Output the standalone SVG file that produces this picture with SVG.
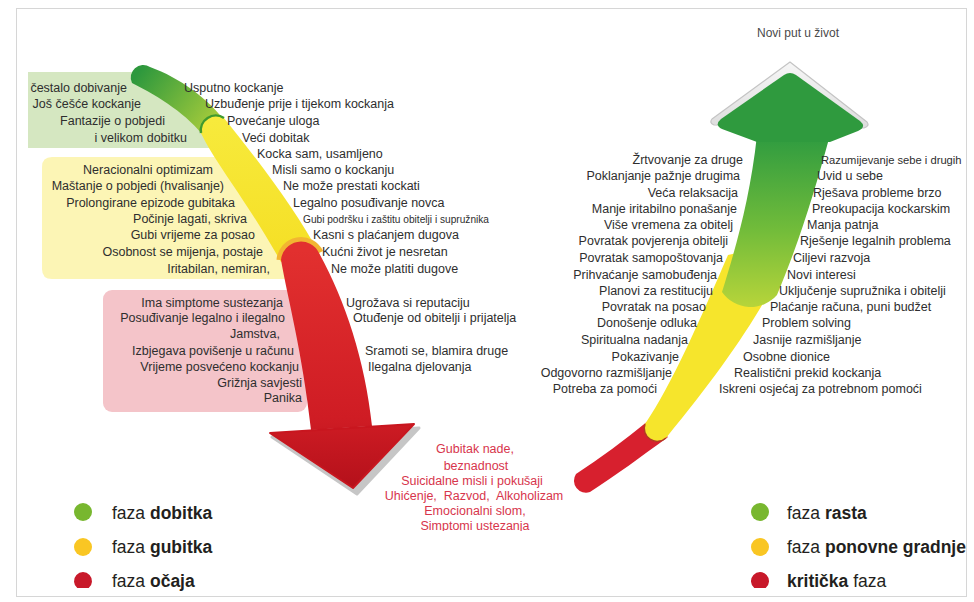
<svg xmlns="http://www.w3.org/2000/svg" width="974" height="602" viewBox="0 0 974 602">
<defs>
<style>
.t{font-family:"Liberation Sans",Arial,sans-serif;font-size:12.5px;fill:#2e2e2e}
.e{text-anchor:end}
.c{text-anchor:middle;fill:#d7354c}
.lg{font-family:"Liberation Sans",Arial,sans-serif;font-size:17.5px;fill:#231f20}
.b{font-weight:bold}
</style>
<linearGradient id="gL" gradientUnits="userSpaceOnUse" x1="140" y1="70" x2="222" y2="132">
<stop offset="0" stop-color="#2d983d"/><stop offset="1" stop-color="#b5d23b"/>
</linearGradient>
<linearGradient id="gR" gradientUnits="userSpaceOnUse" x1="0" y1="308" x2="0" y2="135">
<stop offset="0" stop-color="#b8d53a"/><stop offset="0.45" stop-color="#72bc3a"/><stop offset="1" stop-color="#2e9b40"/>
</linearGradient>
<linearGradient id="yL" gradientUnits="userSpaceOnUse" x1="0" y1="120" x2="0" y2="260">
<stop offset="0" stop-color="#f7ea3c"/><stop offset="1" stop-color="#f5df25"/>
</linearGradient>
<linearGradient id="rL" gradientUnits="userSpaceOnUse" x1="0" y1="250" x2="0" y2="490">
<stop offset="0" stop-color="#e2302f"/><stop offset="0.7" stop-color="#cf1c24"/><stop offset="1" stop-color="#b3101a"/>
</linearGradient>
<linearGradient id="bev" gradientUnits="userSpaceOnUse" x1="0" y1="60" x2="0" y2="126">
<stop offset="0" stop-color="#f7f7f7"/><stop offset="1" stop-color="#dedede"/>
</linearGradient>
<clipPath id="clipC"><rect x="380" y="430" width="200" height="101"/></clipPath>
</defs>
<rect x="16.5" y="8.5" width="950" height="588" fill="#ffffff" stroke="#d6d6d6"/>

<g id="box-dobitka">
<path d="M28,72 L150,72 L228,148 L28,148 Z" fill="#d5e7c1"/>
</g>
<g id="box-gubitka">
<path d="M52,157 L235,157 L305,279 L52,279 Q42,279 42,269 L42,167 Q42,157 52,157 Z" fill="#fcf5b5"/>
</g>
<g id="box-ocaja">
<rect x="103" y="290" width="204" height="122" rx="9" fill="#f4c4c9"/>
</g>

<g id="connectors">
<g id="arrow-down">
<path d="M132,83 A12.5,12.5 0 0 1 150,67 C180,78 208,98 228,125 L205,138 C188,115 160,97 132,83 Z" fill="url(#gL)"/>
<path d="M201,133 C215,163 245,198 281,262 L320,255 C297,212 262,165 224,118 A15,15 0 0 0 201,133 Z" fill="url(#yL)"/>
<path d="M224,118 A15,15 0 0 0 201,133" fill="none" stroke="#3f9a2f" stroke-width="2.5"/>
<path d="M319,253 A20,20 0 0 0 281,260" fill="none" stroke="#f2b531" stroke-width="9"/>
<path d="M272,437 L419,428 L357,494 Z" fill="#c6c6c6" stroke="#c6c6c6" stroke-width="3" stroke-linejoin="round"/>
<path d="M281,260 C288,300 302,350 311,430 L372,426 C365,360 345,300 319,253 A20,20 0 0 0 281,260 Z" fill="url(#rL)"/>
<path d="M270,433 L414,424 L353,488 Z" fill="url(#rL)" stroke="#c8161f" stroke-width="2" stroke-linejoin="round"/>
</g>
<g id="arrow-up">
<path d="M648,421 C625,440 600,458 576,474 A12,12 0 0 0 590,492 C615,476 642,456 668,437 Z" fill="#d7202e"/>
<path d="M645,424 C672,385 702,315 728,255 L795,240 C770,300 730,360 666,438 A13,13 0 0 1 645,424 Z" fill="#f6e52c"/>
<path d="M666,438 A13,13 0 0 1 645,424" fill="none" stroke="#b23a24" stroke-width="1.5"/>
<path d="M722,292 C735,250 750,200 757,135 L830,135 C815,190 800,240 777,295 A35,35 0 0 1 722,292 Z" fill="url(#gR)"/>
<path d="M790,62 L712,119 Q709,123 714,125 L864,128 Q870,126 867,122 Z" fill="url(#bev)" stroke="#c4c4c4" stroke-width="1.2" stroke-linejoin="round"/>
<path d="M757,142 L722,129 Q714,125 721,119 L784,75 Q790,71 796,75 L860,121 Q867,127 858,131 L830,142 Z" fill="#2f9a3e"/>
</g>
</g>

<g id="labels-dobitka" class="t e">
<text x="127" y="91.5">čestalo dobivanje</text>
<text x="141" y="107.5">Još češće kockanje</text>
<text x="165" y="124.5">Fantazije o pobjedi</text>
<text x="187" y="141.5">i velikom dobitku</text>
</g>
<g id="labels-right-down" class="t">
<text x="184" y="91.5">Usputno kockanje</text>
<text x="205" y="107.5">Uzbuđenje prije i tijekom kockanja</text>
<text x="227" y="124.5">Povećanje uloga</text>
<text x="242" y="141.5">Veći dobitak</text>
<text x="257" y="157.5">Kocka sam, usamljeno</text>
<text x="272" y="173.5">Misli samo o kockanju</text>
<text x="283" y="189.5">Ne može prestati kockati</text>
<text x="293" y="206.5">Legalno posuđivanje novca</text>
<text x="303" y="222.5" style="font-size:10.5px" textLength="186" lengthAdjust="spacingAndGlyphs">Gubi podršku i zaštitu obitelji i supružnika</text>
<text x="313" y="238.5">Kasni s plaćanjem dugova</text>
<text x="322" y="255.5">Kućni život je nesretan</text>
<text x="331" y="272.5">Ne može platiti dugove</text>
<text x="346" y="306.5">Ugrožava si reputaciju</text>
<text x="353" y="321.5">Otuđenje od obitelji i prijatelja</text>
<text x="365" y="354.5">Sramoti se, blamira druge</text>
<text x="368" y="370.5">Ilegalna djelovanja</text>
</g>
<g id="labels-gubitka" class="t e">
<text x="213" y="173.5">Neracionalni optimizam</text>
<text x="224" y="189.5">Maštanje o pobjedi (hvalisanje)</text>
<text x="235" y="206.5">Prolongirane epizode gubitaka</text>
<text x="247" y="222.5">Počinje lagati, skriva</text>
<text x="255" y="238.5">Gubi vrijeme za posao</text>
<text x="263" y="255.5">Osobnost se mijenja, postaje</text>
<text x="270" y="272.5">Iritabilan, nemiran,</text>
</g>
<g id="labels-ocaja" class="t e">
<text x="283" y="306.5">Ima simptome sustezanja</text>
<text x="285" y="321.5">Posuđivanje legalno i ilegalno</text>
<text x="280" y="337.5">Jamstva,</text>
<text x="294" y="354.5">Izbjegava povišenje u računu</text>
<text x="299" y="370.5">Vrijeme posvećeno kockanju</text>
<text x="302" y="386.5">Grižnja savjesti</text>
<text x="302" y="401.5">Panika</text>
</g>
<g id="labels-kriza" class="t c" clip-path="url(#clipC)">
<text x="475" y="452.5">Gubitak nade,</text>
<text x="476" y="469.5">beznadnost</text>
<text x="472" y="484.5">Suicidalne misli i pokušaji</text>
<text x="474" y="499.5">Uhićenje,&#160; Razvod,&#160; Alkoholizam</text>
<text x="475" y="514.5">Emocionalni slom,</text>
<text x="475" y="529.5">Simptomi ustezanja</text>
</g>
<g id="labels-up-left" class="t e">
<text x="743" y="163.5">Žrtvovanje za druge</text>
<text x="740" y="179.5">Poklanjanje pažnje drugima</text>
<text x="738" y="196.5">Veća relaksacija</text>
<text x="737" y="212.5">Manje iritabilno ponašanje</text>
<text x="733" y="228.5">Više vremena za obitelj</text>
<text x="728" y="244.5">Povratak povjerenja obitelji</text>
<text x="723" y="261.5">Povratak samopoštovanja</text>
<text x="717" y="278.5">Prihvaćanje samobuđenja</text>
<text x="713" y="295">Planovi za restituciju</text>
<text x="706" y="311">Povratak na posao</text>
<text x="697" y="327">Donošenje odluka</text>
<text x="688" y="343.5">Spiritualna nadanja</text>
<text x="679" y="360.5">Pokazivanje</text>
<text x="672" y="376.5">Odgovorno razmišljanje</text>
<text x="657" y="392.5">Potreba za pomoći</text>
</g>
<g id="labels-up-right" class="t">
<text x="821" y="163.5" style="font-size:11.2px">Razumijevanje sebe i drugih</text>
<text x="817" y="179.5">Uvid u sebe</text>
<text x="813" y="196.5">Rješava probleme brzo</text>
<text x="812" y="212.5">Preokupacija kockarskim</text>
<text x="807" y="228.5">Manja patnja</text>
<text x="800" y="244.5">Rješenje legalnih problema</text>
<text x="793" y="261.5">Ciljevi razvoja</text>
<text x="787" y="278.5">Novi interesi</text>
<text x="779" y="295">Uključenje supružnika i obitelji</text>
<text x="770" y="311">Plaćanje računa, puni budžet</text>
<text x="762" y="327">Problem solving</text>
<text x="753" y="343.5">Jasnije razmišljanje</text>
<text x="743" y="360.5">Osobne dionice</text>
<text x="734" y="376.5">Realistični prekid kockanja</text>
<text x="719" y="392.5">Iskreni osjećaj za potrebnom pomoći</text>
</g>
<g id="title-novi-put">
<text class="t" x="798" y="37" text-anchor="middle" style="font-size:12px;fill:#4a4a4a">Novi put u život</text>
</g>

<g id="legend-left">
<circle cx="83" cy="512" r="9" fill="#78b72f"/>
<circle cx="83" cy="547" r="9" fill="#f9c623"/>
<path d="M77.3,588 A9,9 0 1 1 88.7,588 Z" fill="#c8192a"/>
<text class="lg" x="112" y="519">faza <tspan class="b">dobitka</tspan></text>
<text class="lg" x="112" y="553">faza <tspan class="b">gubitka</tspan></text>
<text class="lg" x="112" y="587">faza <tspan class="b">očaja</tspan></text>
</g>
<g id="legend-right">
<circle cx="760" cy="512" r="9" fill="#78b72f"/>
<circle cx="760" cy="547" r="9" fill="#f9c623"/>
<path d="M754.3,588 A9,9 0 1 1 765.7,588 Z" fill="#c8192a"/>
<text class="lg" x="787" y="519">faza <tspan class="b">rasta</tspan></text>
<text class="lg" x="787" y="553">faza <tspan class="b">ponovne gradnje</tspan></text>
<text class="lg" x="787" y="587"><tspan class="b">kritička</tspan> faza</text>
</g>
</svg>
